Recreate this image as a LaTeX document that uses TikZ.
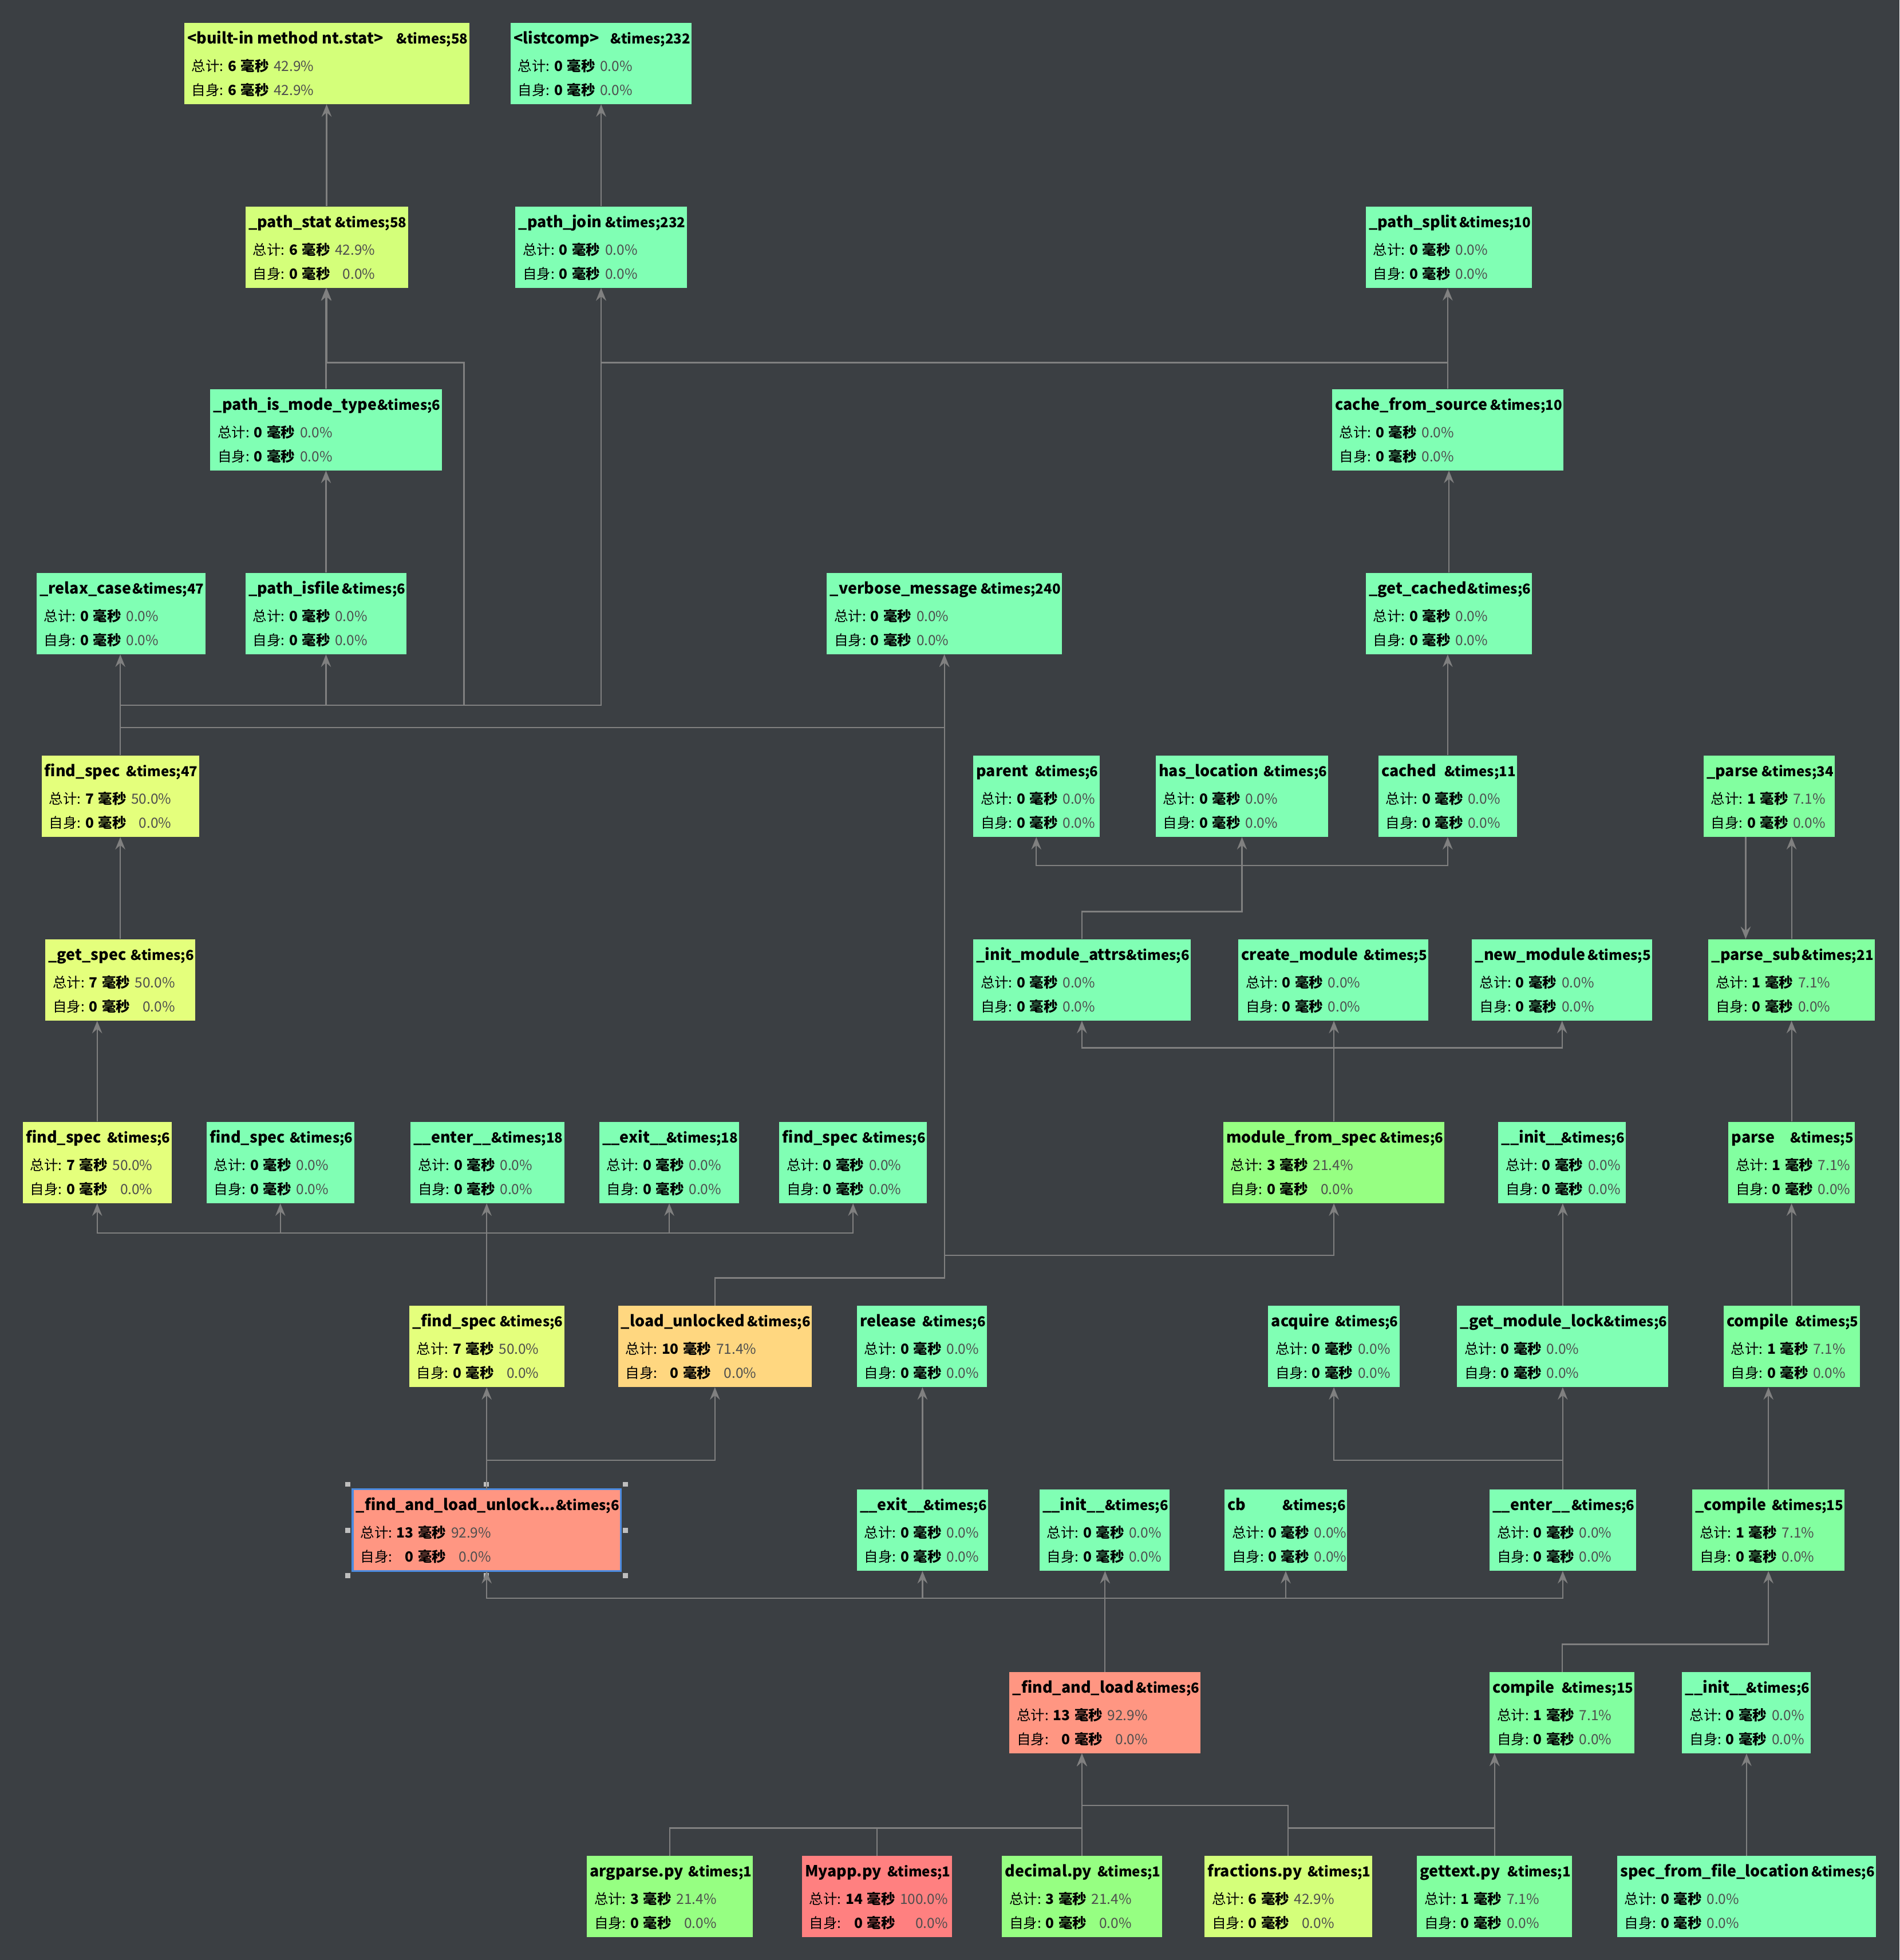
\documentclass[tikz,border=0pt]{standalone}
\usepackage{fontspec}
\setmainfont{Noto Sans CJK SC}
\usetikzlibrary{arrows.meta}
\definecolor{bgc}{HTML}{3B3F43}
\definecolor{lg}{HTML}{808080}
\definecolor{pc}{HTML}{4E4E4E}
\definecolor{cz}{HTML}{80FFB4}
\definecolor{cs}{HTML}{82FFA0}
\definecolor{ct}{HTML}{96FF82}
\definecolor{cf}{HTML}{D4FF7A}
\definecolor{cfi}{HTML}{E4FF7C}
\definecolor{cse}{HTML}{FFD780}
\definecolor{cni}{HTML}{FF9682}
\definecolor{cred}{HTML}{FF8080}
\definecolor{selb}{HTML}{4A8BE0}
\definecolor{hdl}{HTML}{BEBEBE}
\tikzset{
 box/.style={rectangle, inner sep=0pt, minimum height=65pt, draw=none},
 ttl/.style={inner sep=0pt, font=\fontsize{12.3}{15}\selectfont\bfseries, text=black},
 tms/.style={inner sep=0pt, font=\fontsize{11}{14}\selectfont\bfseries, text=black},
 stt/.style={inner sep=0pt, font=\fontsize{11.2}{19}\selectfont, text=black},
 conn/.style={draw=lg, line width=1pt, -{Stealth[length=10pt,width=8pt,inset=3.5pt]}},
}
\def\statstab#1/#2/#3/#4\relax{\begin{tabular}[t]{@{}l@{\hspace{3.5pt}}r@{\hspace{3.5pt}}l@{\hspace{4pt}}r@{}}总计: & \textbf{#1} & \textbf{毫秒} & \textcolor{pc}{#2\%}\\ 自身: & \textbf{#3} & \textbf{毫秒} & \textcolor{pc}{#4\%}\end{tabular}}
\newcommand\fgnode[8]{%
 \node[box, fill=#5, minimum width={(#3-#2)*1pt}, anchor=north west] (#1) at (#2,#4) {};
 \node[ttl, anchor=base west] (#1n) at ([xshift=2.5pt,yshift=-17pt]#1.north west) {#6};
 \node[tms, anchor=base east] (#1x) at ([xshift=-1pt,yshift=-17pt]#1.north east) {\&times;#7};
 \node[stt, anchor=base west] (#1s) at ([xshift=6pt,yshift=-39pt]#1.north west) {\statstab#8\relax};
}
\newcommand\upar[2]{\draw[conn] (#1.north) -- (#1.north |- #2.south);}
\begin{document}
\begin{tikzpicture}[x=1pt,y=-1pt]
\fill[bgc] (0,0) rectangle (1519,1567.5);
\useasboundingbox (0,0) rectangle (1519,1567.5);
% levels
\coordinate (y290) at (0,290);
\coordinate (y564) at (0,564);
\coordinate (y582) at (0,582);
\coordinate (y692) at (0,692);
\coordinate (y729) at (0,729);
\coordinate (y838) at (0,838);
\coordinate (y986) at (0,986);
\coordinate (y1004) at (0,1004);
\coordinate (y1022) at (0,1022);
\coordinate (y1168) at (0,1168);
\coordinate (y1278) at (0,1278);
\coordinate (y1315) at (0,1315);
\coordinate (y1444) at (0,1444);
\coordinate (y1462) at (0,1462);
\coordinate (x371) at (371,0);
\coordinate (x1396) at (1396,0);
% row 1
\fgnode{bstat}{147}{375}{18}{cf}{<built-in method nt.stat>}{58}{6/42.9/6/42.9}
\fgnode{lcomp}{408}{553}{18}{cz}{<listcomp>}{232}{0/0.0/0/0.0}
% row 2
\fgnode{pstat}{196}{326}{165}{cf}{\_path\_stat}{58}{6/42.9/0/0.0}
\fgnode{pjoin}{412}{549}{165}{cz}{\_path\_join}{232}{0/0.0/0/0.0}
\fgnode{psplit}{1092}{1225}{165}{cz}{\_path\_split}{10}{0/0.0/0/0.0}
% row 3
\fgnode{pismode}{168}{353}{311}{cz}{\_path\_is\_mode\_type}{6}{0/0.0/0/0.0}
\fgnode{cfs}{1065}{1250}{311}{cz}{cache\_from\_source}{10}{0/0.0/0/0.0}
% row 4
\fgnode{relax}{29}{164}{458}{cz}{\_relax\_case}{47}{0/0.0/0/0.0}
\fgnode{pisfile}{196}{325}{458}{cz}{\_path\_isfile}{6}{0/0.0/0/0.0}
\fgnode{verbose}{661}{849}{458}{cz}{\_verbose\_message}{240}{0/0.0/0/0.0}
\fgnode{getcached}{1092}{1225}{458}{cz}{\_get\_cached}{6}{0/0.0/0/0.0}
% row 5
\fgnode{fsft}{33}{159}{604}{cfi}{find\_spec}{47}{7/50.0/0/0.0}
\fgnode{parent}{778}{879}{604}{cz}{parent}{6}{0/0.0/0/0.0}
\fgnode{hasloc}{924}{1062}{604}{cz}{has\_location}{6}{0/0.0/0/0.0}
\fgnode{cached}{1102}{1213}{604}{cz}{cached}{11}{0/0.0/0/0.0}
\fgnode{prs}{1362}{1467}{604}{cs}{\_parse}{34}{1/7.1/0/0.0}
% row 6
\fgnode{getspec}{36}{156}{751}{cfi}{\_get\_spec}{6}{7/50.0/0/0.0}
\fgnode{initattrs}{778}{952}{751}{cz}{\_init\_module\_attrs}{6}{0/0.0/0/0.0}
\fgnode{createmod}{990}{1142}{751}{cz}{create\_module}{5}{0/0.0/0/0.0}
\fgnode{newmod}{1177}{1321}{751}{cz}{\_new\_module}{5}{0/0.0/0/0.0}
\fgnode{parsesub}{1366}{1499}{751}{cs}{\_parse\_sub}{21}{1/7.1/0/0.0}
% row 7
\fgnode{fsA}{18}{137}{897}{cfi}{find\_spec}{6}{7/50.0/0/0.0}
\fgnode{fsB}{165}{283}{897}{cz}{find\_spec}{6}{0/0.0/0/0.0}
\fgnode{enterA}{328}{451}{897}{cz}{\_\_enter\_\_}{18}{0/0.0/0/0.0}
\fgnode{exitA}{479}{591}{897}{cz}{\_\_exit\_\_}{18}{0/0.0/0/0.0}
\fgnode{fsC}{623}{741}{897}{cz}{find\_spec}{6}{0/0.0/0/0.0}
\fgnode{mfs}{978}{1155}{897}{ct}{module\_from\_spec}{6}{3/21.4/0/0.0}
\fgnode{initA}{1198}{1300}{897}{cz}{\_\_init\_\_}{6}{0/0.0/0/0.0}
\fgnode{parsefive}{1382}{1483}{897}{cs}{parse}{5}{1/7.1/0/0.0}
% row 8
\fgnode{fspec}{327}{451}{1044}{cfi}{\_find\_spec}{6}{7/50.0/0/0.0}
\fgnode{loadunl}{494}{649}{1044}{cse}{\_load\_unlocked}{6}{10/71.4/0/0.0}
\fgnode{release}{685}{789}{1044}{cz}{release}{6}{0/0.0/0/0.0}
\fgnode{acquire}{1014}{1119}{1044}{cz}{acquire}{6}{0/0.0/0/0.0}
\fgnode{getlock}{1165}{1334}{1044}{cz}{\_get\_module\_lock}{6}{0/0.0/0/0.0}
\fgnode{compfive}{1378}{1487}{1044}{cs}{compile}{5}{1/7.1/0/0.0}
% row 9
\fgnode{falu}{282}{496}{1191}{cni}{\_find\_and\_load\_unlock...}{6}{13/92.9/0/0.0}
\draw[selb, line width=1.5pt] (falu.north west) rectangle (falu.south east);
\foreach \hx in {278,389,500}{\fill[hdl] (\hx-2,1185) rectangle (\hx+2,1189); \fill[hdl] (\hx-2,1258) rectangle (\hx+2,1262);}
\foreach \hx in {278,500}{\fill[hdl] (\hx-2,1222) rectangle (\hx+2,1226);}
\fgnode{exitB}{685}{790}{1191}{cz}{\_\_exit\_\_}{6}{0/0.0/0/0.0}
\fgnode{initB}{831}{935}{1191}{cz}{\_\_init\_\_}{6}{0/0.0/0/0.0}
\fgnode{cb}{979}{1077}{1191}{cz}{cb}{6}{0/0.0/0/0.0}
\fgnode{enterB}{1191}{1308}{1191}{cz}{\_\_enter\_\_}{6}{0/0.0/0/0.0}
\fgnode{cmpl}{1353}{1475}{1191}{cs}{\_compile}{15}{1/7.1/0/0.0}
% row 10
\fgnode{fal}{807}{960}{1337}{cni}{\_find\_and\_load}{6}{13/92.9/0/0.0}
\fgnode{compft}{1191}{1307}{1337}{cs}{compile}{15}{1/7.1/0/0.0}
\fgnode{initC}{1345}{1448}{1337}{cz}{\_\_init\_\_}{6}{0/0.0/0/0.0}
% row 11
\fgnode{argparse}{469}{602}{1484}{ct}{argparse.py}{1}{3/21.4/0/0.0}
\fgnode{myapp}{641}{761}{1484}{cred}{Myapp.py}{1}{14/100.0/0/0.0}
\fgnode{decimal}{801}{929}{1484}{ct}{decimal.py}{1}{3/21.4/0/0.0}
\fgnode{fractions}{963}{1097}{1484}{cf}{fractions.py}{1}{6/42.9/0/0.0}
\fgnode{gettext}{1133}{1257}{1484}{cs}{gettext.py}{1}{1/7.1/0/0.0}
\fgnode{sffl}{1293}{1500}{1484}{cz}{spec\_from\_file\_location}{6}{0/0.0/0/0.0}
% connectors
\upar{pstat}{bstat}
\upar{pjoin}{lcomp}
\upar{pismode}{pstat}
\upar{pisfile}{pismode}
\draw[conn] (fsft.north) -- (fsft.north |- y564) -| (x371 |- y290) -| (pstat.south);
\upar{fsft}{relax}
\draw[conn] (fsft.north) -- (fsft.north |- y564) -| (pisfile.south);
\draw[conn] (fsft.north) -- (fsft.north |- y564) -| (pjoin.south);
\draw[conn] (fsft.north) -- (fsft.north |- y582) -| (verbose.south);
\upar{cfs}{psplit}
\draw[conn] (cfs.north) -- (cfs.north |- y290) -| (pjoin.south);
\upar{getcached}{cfs}
\upar{cached}{getcached}
\draw[conn] (initattrs.north) -- (initattrs.north |- y729) -| (hasloc.south);
\draw[conn] (initattrs.north) -- (initattrs.north |- y729) -| (hasloc.south |- y692) -| (parent.south);
\draw[conn] (initattrs.north) -- (initattrs.north |- y729) -| (hasloc.south |- y692) -| (cached.south);
\upar{getspec}{fsft}
\upar{fsA}{getspec}
\draw[conn] (fspec.north) -- (fspec.north |- y986) -| (fsA.south);
\draw[conn] (fspec.north) -- (fspec.north |- y986) -| (fsB.south);
\upar{fspec}{enterA}
\draw[conn] (fspec.north) -- (fspec.north |- y986) -| (exitA.south);
\draw[conn] (fspec.north) -- (fspec.north |- y986) -| (fsC.south);
\draw[conn] (loadunl.north) -- (loadunl.north |- y1022) -| (verbose.south);
\draw[conn] (loadunl.north) -- (loadunl.north |- y1022) -| (verbose.south |- y1004) -| (mfs.south);
\upar{mfs}{createmod}
\draw[conn] (mfs.north) -- (mfs.north |- y838) -| (initattrs.south);
\draw[conn] (mfs.north) -- (mfs.north |- y838) -| (newmod.south);
\upar{getlock}{initA}
\draw[conn] (x1396 |- prs.south) -- (x1396 |- parsesub.north);
\upar{parsesub}{prs}
\upar{parsefive}{parsesub}
\upar{compfive}{parsefive}
\upar{cmpl}{compfive}
\upar{falu}{fspec}
\draw[conn] (falu.north) -- (falu.north |- y1168) -| (loadunl.south);
\upar{exitB}{release}
\upar{enterB}{getlock}
\draw[conn] (enterB.north) -- (enterB.north |- y1168) -| (acquire.south);
\upar{fal}{initB}
\draw[conn] (fal.north) -- (fal.north |- y1278) -| (falu.south);
\draw[conn] (fal.north) -- (fal.north |- y1278) -| (exitB.south);
\draw[conn] (fal.north) -- (fal.north |- y1278) -| (cb.south);
\draw[conn] (fal.north) -- (fal.north |- y1278) -| (enterB.south);
\draw[conn] (compft.north) -- (compft.north |- y1315) -| (cmpl.south);
\draw[conn] (argparse.north) -- (argparse.north |- y1462) -| (decimal.north |- fal.south);
\draw[conn] (myapp.north) -- (myapp.north |- y1462) -| (decimal.north |- fal.south);
\draw[conn] (decimal.north) -- (decimal.north |- fal.south);
\draw[conn] (fractions.north) -- (fractions.north |- y1444) -| (decimal.north |- fal.south);
\draw[conn] (fractions.north) -- (fractions.north |- y1462) -| (gettext.north |- compft.south);
\draw[conn] (gettext.north) -- (gettext.north |- compft.south);
\upar{sffl}{initC}
\end{tikzpicture}
\end{document}
